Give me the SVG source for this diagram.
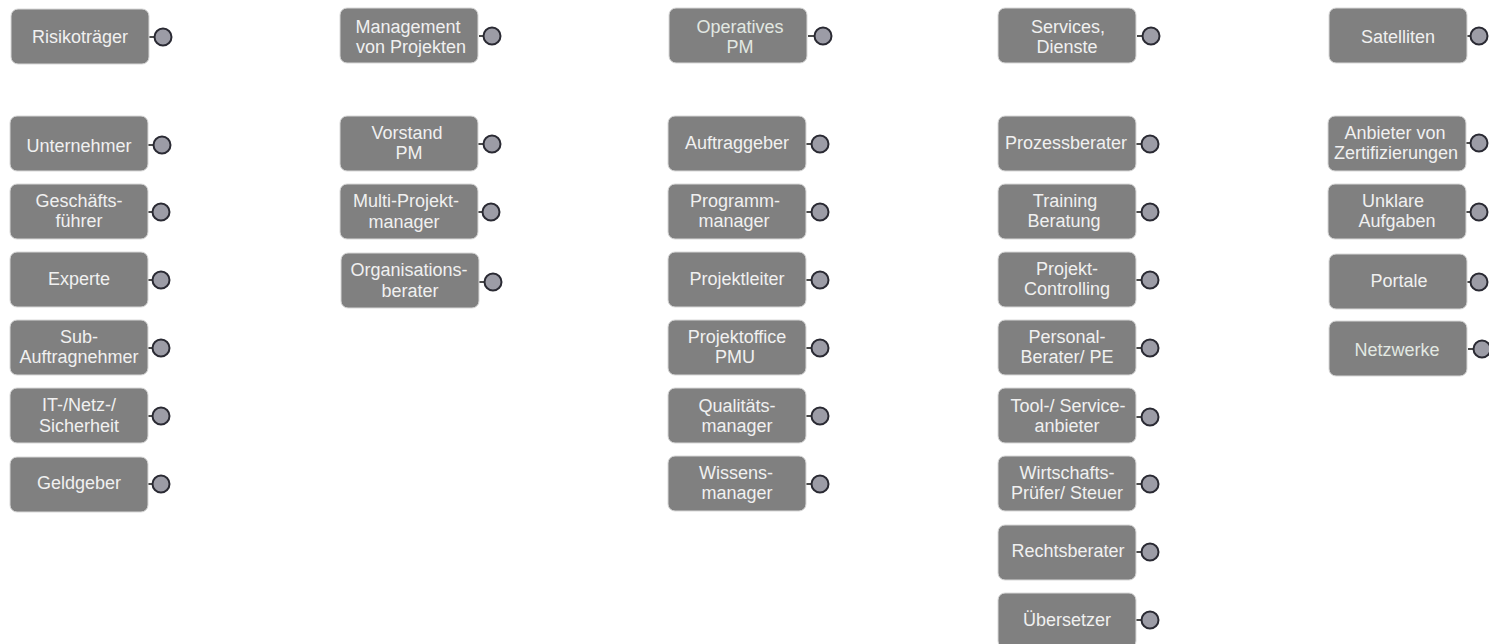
<svg xmlns="http://www.w3.org/2000/svg" width="1489" height="644" viewBox="0 0 1489 644">
<style>
.b{fill:#808080;stroke:#d8d8d8;stroke-width:1}
.c{fill:#9c9ca6;stroke:#2a2a33;stroke-width:2}
.s{stroke:#111;stroke-width:1.5;fill:none}
text{font-family:"Liberation Sans",Arial,sans-serif;font-size:18px;fill:#f0f0f0;text-anchor:middle}
.d{fill:#e2e8e2}
</style>
<defs>
<rect id="box" class="b" x="0" y="0" width="138" height="55" rx="7"/>
</defs>
<g id="connectors">
<path class="s" d="M149 37h6M148 145h6M148 212h5M148 280h5M148 348h5M148 416h5M148 484h5"/>
<path class="s" d="M479 36h5M478 144h6M478 212h5M479 282h6"/>
<path class="s" d="M808 36h7M806 144h6M806 212h6M806 280h6M806 348h6M806 416h6M806 484h6"/>
<path class="s" d="M1137 36h6M1136 144h6M1136 212h6M1136 280h6M1136 348h6M1136 417h6M1136 484h6M1136 552h6M1136 620h6"/>
<path class="s" d="M1467 36h5M1466 143h6M1466 212h6M1467 282h5M1468 349h6"/>
</g>
<g id="n1"><use href="#box" x="11" y="9"/><text x="80" y="43">Risikoträger</text><circle class="c" cx="163" cy="37" r="8.5"/></g>
<g id="n2"><use href="#box" x="10" y="116"/><text x="79" y="152">Unternehmer</text><circle class="c" cx="162" cy="145" r="8.5"/></g>
<g id="n3"><use href="#box" x="10" y="184"/><text x="79" y="207">Geschäfts-</text><text x="79" y="227">führer</text><circle class="c" cx="161" cy="212" r="8.5"/></g>
<g id="n4"><use href="#box" x="10" y="252"/><text x="79" y="285">Experte</text><circle class="c" cx="161" cy="280" r="8.5"/></g>
<g id="n5"><use href="#box" x="10" y="320"/><text x="79" y="343">Sub-</text><text x="79" y="363">Auftragnehmer</text><circle class="c" cx="161" cy="348" r="8.5"/></g>
<g id="n6"><use href="#box" x="10" y="388"/><text x="79" y="411">IT-/Netz-/</text><text x="79" y="432">Sicherheit</text><circle class="c" cx="161" cy="416" r="8.5"/></g>
<g id="n7"><use href="#box" x="10" y="457"/><text x="79" y="489">Geldgeber</text><circle class="c" cx="161" cy="484" r="8.5"/></g>

<g id="n8"><use href="#box" x="340" y="8"/><text x="408" y="33">Management</text><text x="411" y="53">von Projekten</text><circle class="c" cx="492" cy="36" r="8.5"/></g>
<g id="n9"><use href="#box" x="340" y="116"/><text x="407" y="139">Vorstand</text><text x="409" y="159">PM</text><circle class="c" cx="492" cy="144" r="8.5"/></g>
<g id="n10"><use href="#box" x="340" y="184"/><text x="406" y="207">Multi-Projekt-</text><text x="404" y="228">manager</text><circle class="c" cx="491" cy="212" r="8.5"/></g>
<g id="n11"><use href="#box" x="341" y="253"/><text x="409" y="276">Organisations-</text><text x="410" y="297">berater</text><circle class="c" cx="493" cy="282" r="8.5"/></g>

<g id="n12"><use href="#box" x="669" y="8"/><text class="d" x="740" y="33">Operatives</text><text class="d" x="740" y="53">PM</text><circle class="c" cx="823" cy="36" r="8.5"/></g>
<g id="n13"><use href="#box" x="668" y="116"/><text x="737" y="149">Auftraggeber</text><circle class="c" cx="820" cy="144" r="8.5"/></g>
<g id="n14"><use href="#box" x="668" y="184"/><text x="735" y="207">Programm-</text><text x="734" y="227">manager</text><circle class="c" cx="820" cy="212" r="8.5"/></g>
<g id="n15"><use href="#box" x="668" y="252"/><text x="737" y="285">Projektleiter</text><circle class="c" cx="820" cy="280" r="8.5"/></g>
<g id="n16"><use href="#box" x="668" y="320"/><text x="737" y="343">Projektoffice</text><text x="735" y="363">PMU</text><circle class="c" cx="820" cy="348" r="8.5"/></g>
<g id="n17"><use href="#box" x="668" y="388"/><text x="737" y="412">Qualitäts-</text><text x="737" y="432">manager</text><circle class="c" cx="820" cy="416" r="8.5"/></g>
<g id="n18"><use href="#box" x="668" y="456"/><text x="736" y="479">Wissens-</text><text x="737" y="499">manager</text><circle class="c" cx="820" cy="484" r="8.5"/></g>

<g id="n19"><use href="#box" x="998" y="8"/><text x="1068" y="33">Services,</text><text x="1067" y="53">Dienste</text><circle class="c" cx="1151" cy="36" r="8.5"/></g>
<g id="n20"><use href="#box" x="998" y="116"/><text x="1066" y="149">Prozessberater</text><circle class="c" cx="1150" cy="144" r="8.5"/></g>
<g id="n21"><use href="#box" x="998" y="184"/><text x="1065" y="207">Training</text><text x="1064" y="227">Beratung</text><circle class="c" cx="1150" cy="212" r="8.5"/></g>
<g id="n22"><use href="#box" x="998" y="252"/><text x="1067" y="275">Projekt-</text><text x="1067" y="295">Controlling</text><circle class="c" cx="1150" cy="280" r="8.5"/></g>
<g id="n23"><use href="#box" x="998" y="320"/><text x="1067" y="343">Personal-</text><text x="1067" y="363">Berater/ PE</text><circle class="c" cx="1150" cy="348" r="8.5"/></g>
<g id="n24"><use href="#box" x="998" y="388"/><text x="1068" y="412">Tool-/ Service-</text><text x="1067" y="432">anbieter</text><circle class="c" cx="1150" cy="417" r="8.5"/></g>
<g id="n25"><use href="#box" x="998" y="456"/><text x="1067" y="479">Wirtschafts-</text><text x="1067" y="499">Prüfer/ Steuer</text><circle class="c" cx="1150" cy="484" r="8.5"/></g>
<g id="n26"><use href="#box" x="998" y="525"/><text x="1068" y="557">Rechtsberater</text><circle class="c" cx="1150" cy="552" r="8.5"/></g>
<g id="n27"><use href="#box" x="998" y="593"/><text x="1067" y="626">Übersetzer</text><circle class="c" cx="1150" cy="620" r="8.5"/></g>

<g id="n28"><use href="#box" x="1329" y="8"/><text x="1398" y="43">Satelliten</text><circle class="c" cx="1479" cy="36" r="8.5"/></g>
<g id="n29"><use href="#box" x="1328" y="116"/><text x="1395" y="139">Anbieter von</text><text x="1396" y="159">Zertifizierungen</text><circle class="c" cx="1479" cy="143" r="8.5"/></g>
<g id="n30"><use href="#box" x="1328" y="184"/><text x="1393" y="207">Unklare</text><text x="1397" y="227">Aufgaben</text><circle class="c" cx="1479" cy="212" r="8.5"/></g>
<g id="n31"><use href="#box" x="1329" y="254"/><text x="1399" y="287">Portale</text><circle class="c" cx="1479" cy="282" r="8.5"/></g>
<g id="n32"><use href="#box" x="1329" y="321"/><text class="d" x="1397" y="356">Netzwerke</text><circle class="c" cx="1482" cy="349" r="8.5"/></g>
</svg>
